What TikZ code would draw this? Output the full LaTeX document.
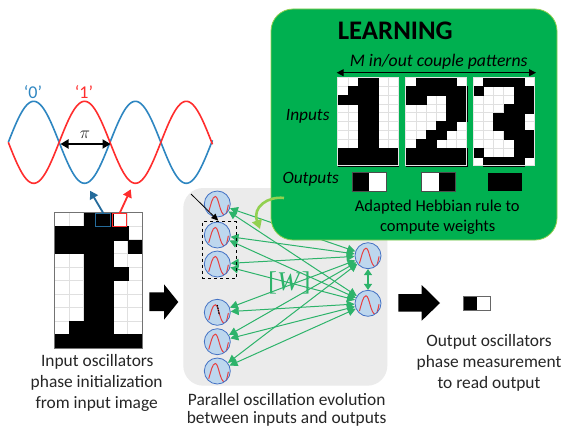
\documentclass[tikz,border=0pt]{standalone}
\usepackage{fontspec}
\setmainfont{Carlito}
\newfontfamily\wfont{Liberation Serif}
\usetikzlibrary{arrows.meta}
\definecolor{lgreen}{HTML}{00B050}
\definecolor{ledge}{HTML}{92D050}
\definecolor{conn}{HTML}{2DB36A}
\definecolor{oscfill}{HTML}{BDD7EE}
\definecolor{oscedge}{HTML}{4472C4}
\definecolor{wblue}{HTML}{2E86C1}
\definecolor{wred}{HTML}{FF2D2D}
\definecolor{sinered}{HTML}{E84040}
\definecolor{txt}{HTML}{262626}
\definecolor{panel}{HTML}{EBEBEB}
\tikzset{
  osc/.style={circle,draw=oscedge,fill=oscfill,line width=0.8pt,minimum size=26pt,inner sep=0pt,
    path picture={\draw[shift={(path picture bounding box.center)},draw=sinered,line width=1pt,line cap=round]
      (-8.5,7.5) .. controls (-6.5,1) and (-5,-7.5) .. (-2,-7.5)
      .. controls (1.5,-7.5) and (2.5,11) .. (7.5,11)
      .. controls (9,11) and (10,6) .. (11,1);}},
  link/.style={draw=conn,line width=1pt,{Triangle[length=8pt,width=8pt]}-{Triangle[length=8pt,width=8pt]}},
  caption/.style={text=txt,font=\fontsize{17.4}{19}\selectfont,inner sep=0pt,anchor=center},
  dark/.style={text=black,inner sep=0pt,anchor=center},
  cellline/.style={draw=black!12,line width=0.4pt},
  bwcell/.style={fill=black,draw=black,line width=0.2pt},
  bigarrow/.style={fill=black},
  wave/.style={line width=1.6pt,domain=8.3:212.5,samples=140}
}
\newcommand{\bwgrid}[6]{%
  \begin{scope}[shift={(#1,#2)},x=#3pt,y=-#4pt]
    \fill[white] (0,0) rectangle (6,10);
    \foreach \gx in {1,...,5} { \draw[cellline] (\gx,0) -- (\gx,10); }
    \foreach \gy in {1,...,9} { \draw[cellline] (0,\gy) -- (6,\gy); }
    \foreach \rowcols [count=\ry from 0] in {#5} {
      \foreach \cx in \rowcols { \path[bwcell] (\cx,\ry) rectangle +(1,1); }
    }
    \draw[#6,line width=0.8pt] (0,0) rectangle (6,10);
  \end{scope}}
\begin{document}
\begin{tikzpicture}[x=1pt,y=-1pt]
\useasboundingbox (0,0) rectangle (569,428);
\fill[white] (0,0) rectangle (569,428);
% gray panel
\fill[panel,rounded corners=20pt] (183.3,188) rectangle (387.3,385.7);
% oscillators
\node[osc] (l1) at (217.3,204) {};
\node[osc] (l2) at (217.3,235) {};
\node[osc] (l3) at (217.3,264) {};
\node[osc] (l4) at (217.3,312.3) {};
\node[osc] (l5) at (217.3,341.7) {};
\node[osc] (l6) at (217.3,371) {};
\node[osc] (r1) at (368,255.7) {};
\node[osc] (r2) at (368,303.3) {};
\foreach \l in {l1,l2,l3,l4,l5,l6} {
  \draw[link] (\l) -- (r1);
  \draw[link] (\l) -- (r2);
}
\draw[link,line width=1.3pt,{Triangle[length=6pt,width=8pt]}-{Triangle[length=6pt,width=8pt]}] (r1) -- (r2);
\node[text=conn,inner sep=0pt,font=\wfont\fontsize{27}{29}\selectfont] (wmat) at (289.3,283.3) {[\textit{W}]};
% selection
\node[draw=black,dashed,line width=0.7pt,minimum width=34pt,minimum height=57pt,inner sep=0pt] (sel) at (219.3,250.2) {};
\coordinate (ptrA) at (191,194);
\coordinate (ptrB) at (218.3,220.7);
\draw[black,line width=0.8pt,-{Triangle[length=7pt,width=6pt]}] (ptrA) -- (ptrB);
\coordinate (markA) at (217.3,305);
\coordinate (markB) at (219.3,315);
\draw[black,line width=1.2pt,dash pattern=on 1.5pt off 1pt] (markA) -- (markB);
% learning box
\path[fill=lgreen,draw=ledge,line width=0.8pt,rounded corners=22pt] (271,9) rectangle (557,240);
\coordinate (curlA) at (284,198);
\coordinate (curlB) at (260,229);
\draw[ledge,line width=2.6pt,-{Triangle[length=9pt,width=10pt]}] (curlA) .. controls (268,196) and (252,207) .. (curlB);
\node[dark,font=\bfseries\fontsize{26.8}{29}\selectfont] (ttl) at (395.3,30.7) {LEARNING};
\node[dark,font=\itshape\fontsize{17.7}{19}\selectfont] (mlab) at (438.7,62) {M in/out couple patterns};
\coordinate (mA) at (336.7,72.7);
\coordinate (mB) at (536,72.7);
\draw[black,line width=1pt,{Triangle[length=7pt,width=7pt]}-{Triangle[length=7pt,width=7pt]}] (mA) -- (mB);
\node[dark,font=\itshape\fontsize{17.3}{19}\selectfont] (inp) at (307.7,116.7) {Inputs};
\node[dark,font=\itshape\fontsize{17.3}{19}\selectfont] (outp) at (310.7,179.3) {Outputs};
\bwgrid{337.7}{77.3}{10.1}{8.84}{{2,3},{1,2,3},{0,1,2,3},{2,3},{2,3},{2,3},{2,3},{2,3},{0,1,2,3,4,5},{0,1,2,3,4,5}}{black!10}
\bwgrid{405.7}{77.3}{10.17}{8.84}{{1,2,3,4},{0,1,2,3,4,5},{0,1,4,5},{4,5},{4,5},{3,4},{2,3},{1,2},{0,1,2,3,4,5},{0,1,2,3,4,5}}{black!10}
\bwgrid{473.3}{77.3}{10.1}{8.84}{{1,2,3,4},{0,4,5},{4,5},{3,4,5},{2,3,4},{2,3,4},{3,4,5},{4,5},{0,4,5},{1,2,3,4}}{black!10}
% output chips in box
\fill[white] (352.7,172.7) rectangle (386.7,191);
\fill[black] (352.7,172.7) rectangle (369.3,191);
\draw[black!70,line width=0.6pt] (352.7,172.7) rectangle (386.7,191);
\fill[white] (421.3,172.7) rectangle (455,191);
\fill[black] (439.3,172.7) rectangle (455,191);
\draw[black!70,line width=0.6pt] (421.3,172.7) rectangle (455,191);
\fill[black] (488,172.7) rectangle (522.3,191);
\node[dark,font=\fontsize{16.5}{18}\selectfont] (heb1) at (437.3,207.3) {Adapted Hebbian rule to};
\node[dark,font=\fontsize{16.5}{18}\selectfont] (heb2) at (437.7,226.7) {compute weights};
% waves
\draw[wblue,wave] plot (\x,{142.3-41*sin((\x-8.3)/101.7*360)});
\draw[wred,wave] plot (\x,{142.3+41*sin((\x-8.3)/101.7*360)});
\node[text=wblue,inner sep=0pt,font=\fontsize{18}{20}\selectfont] (zero) at (33,92) {‘0’};
\node[text=wred,inner sep=0pt,font=\fontsize{18}{20}\selectfont] (one) at (84,92) {‘1’};
\node[text=txt,inner sep=0pt,font=\fontsize{19}{20}\selectfont] (pi) at (85,135) {$\pi$};
\coordinate (piA) at (60.5,144);
\coordinate (piB) at (110.5,144);
\draw[black,line width=1.8pt,{Triangle[length=8pt,width=9pt]}-{Triangle[length=8pt,width=9pt]}] (piA) -- (piB);
% input image
\bwgrid{54.3}{212.5}{14.67}{13.55}{{2,3},{0,1,2,3,4},{0,1,2,3,5},{2,3},{2,3,4},{2,3},{2,3},{2,3},{1,2,3},{0,1,2,3,4,5}}{black!55}
\node[draw=wblue!80!black,line width=1pt,minimum width=14.7pt,minimum height=13.3pt,inner sep=0pt] (bbox) at (103.3,220.3) {};
\node[draw=wred,line width=1pt,minimum width=14pt,minimum height=13.3pt,inner sep=0pt] (rbox) at (119.7,220.3) {};
\coordinate (bT) at (90,190.7);
\coordinate (rT) at (130.7,189.3);
\draw[wblue!80!black,line width=1.8pt,-{Triangle[length=8pt,width=9pt]}] (bbox.north) -- (bT);
\draw[wred,line width=1.8pt,-{Triangle[length=8pt,width=9pt]}] (rbox.north) -- (rT);
\node[caption] (c1a) at (97.3,361.7) {Input oscillators};
\node[caption] (c1b) at (96.7,383) {phase initialization};
\node[caption] (c1c) at (96.7,404) {from input image};
\node[caption] (c2a) at (286.7,399.5) {Parallel oscillation evolution};
\node[caption] (c2b) at (286.7,418.8) {between inputs and outputs};
% big arrows
\fill[bigarrow] (149.3,292.3) -- (164,292.3) -- (164,284.3) -- (178.3,302) -- (164,319.7) -- (164,311) -- (149.3,311) -- cycle;
\fill[bigarrow] (398.3,294) -- (421.7,294) -- (421.7,285) -- (440,303) -- (421.7,320.7) -- (421.7,311.7) -- (398.3,311.7) -- cycle;
% output chip
\fill[white] (463.3,296.7) rectangle (490,310);
\fill[black] (463.3,296.7) rectangle (476.5,310);
\draw[black!60,line width=0.6pt] (463.3,296.7) rectangle (490,310);
\node[caption] (c3a) at (489,341.7) {Output oscillators};
\node[caption] (c3b) at (489,363.3) {phase measurement};
\node[caption] (c3c) at (489,384) {to read output};
\end{tikzpicture}
\end{document}
